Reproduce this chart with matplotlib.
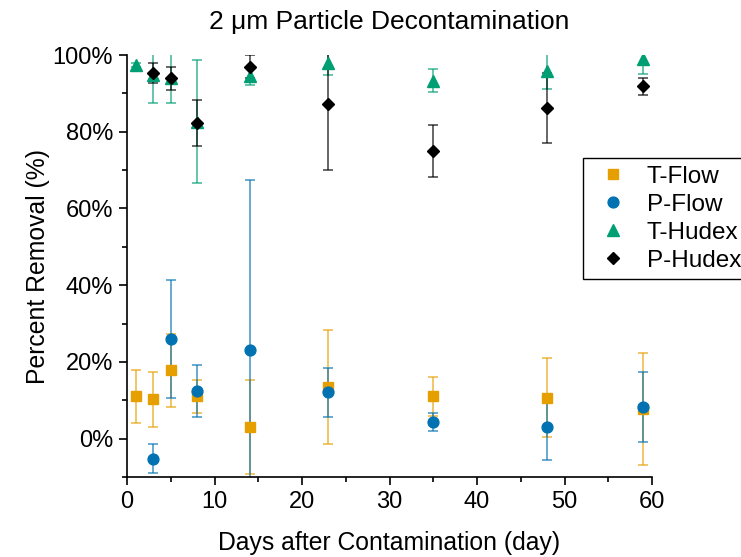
import matplotlib
matplotlib.use("Agg")
import matplotlib.pyplot as plt
from matplotlib.ticker import MultipleLocator, FuncFormatter

plt.rcParams['font.family'] = ['Liberation Sans', 'DejaVu Sans']

# ---- data ----
tflow_days = [1, 3, 5, 8, 14, 23, 35, 48, 59]
tflow_val = [11.0, 10.3, 17.8, 11.0, 3.1, 13.5, 11.0, 10.6, 7.6]
tflow_err = [7.0, 7.2, 9.5, 4.4, 12.3, 14.8, 5.0, 10.3, 14.6]

pflow_days = [3, 5, 8, 14, 23, 35, 48, 59]
pflow_val = [-5.2, 26.0, 12.5, 23.2, 12.1, 4.4, 3.0, 8.2]
pflow_err = [3.7, 15.3, 6.8, 44.2, 6.4, 2.3, 8.5, 9.1]

thudex_days = [1, 3, 5, 8, 14, 23, 35, 48, 59]
thudex_val = [97.4, 94.8, 94.0, 82.6, 94.5, 98.0, 93.3, 95.7, 99.0]
thudex_err = [0.6, 7.4, 6.6, 16.0, 2.2, 3.1, 3.0, 4.5, 4.0]

phudex_days = [3, 5, 8, 14, 23, 35, 48, 59]
phudex_val = [95.2, 93.9, 82.3, 96.9, 87.1, 75.0, 86.2, 91.8]
phudex_err = [2.6, 3.0, 6.0, 3.0, 17.2, 6.8, 9.2, 2.3]

series = [
    ("T-Flow", tflow_days, tflow_val, tflow_err, "#E69F00", "s", 6.8),
    ("P-Flow", pflow_days, pflow_val, pflow_err, "#0072B2", "o", 7.8),
    ("T-Hudex", thudex_days, thudex_val, thudex_err, "#009E73", "^", 8.5),
    ("P-Hudex", phudex_days, phudex_val, phudex_err, "#000000", "D", 6.3),
]

fig = plt.figure(figsize=(7.41, 5.57), dpi=100)
ax = fig.add_axes([127/741, 1 - 477/557, (652 - 127)/741, (477 - 55)/557])

handles = []
for name, d, v, e, c, m, ms in series:
    ax.errorbar(d, v, yerr=e, fmt="none", ecolor=c, elinewidth=1.4,
                capsize=3.6, capthick=1.4, alpha=0.6, zorder=2)
    h = ax.plot(d, v, linestyle="none", marker=m, color=c, markersize=ms,
                label=name, zorder=3)[0]
    handles.append(h)

ax.set_xlim(0, 60)
ax.set_ylim(-10, 100)
ax.xaxis.set_major_locator(MultipleLocator(10))
ax.xaxis.set_minor_locator(MultipleLocator(5))
ax.yaxis.set_major_locator(MultipleLocator(20))
ax.yaxis.set_minor_locator(MultipleLocator(10))
ax.yaxis.set_major_formatter(FuncFormatter(lambda y, p: f"{y:.0f}%"))
ax.tick_params(which="major", direction="out", length=6, width=1.2, labelsize=17, pad=4)
ax.tick_params(which="minor", direction="out", length=3.5, width=1.2)
for s in ["top", "right"]:
    ax.spines[s].set_visible(False)
for s in ["left", "bottom"]:
    ax.spines[s].set_linewidth(1.2)

ax.set_xlabel("Days after Contamination (day)", fontsize=17.8, labelpad=13)
ax.set_ylabel("Percent Removal (%)", fontsize=17.8, labelpad=2)
ax.set_title("2 \u03bcm Particle Decontamination", fontsize=19, pad=19)

leg = fig.legend(handles=handles, loc="upper left",
                 bbox_to_anchor=(582.7/741, 1 - 158.3/557),
                 fontsize=17.5, frameon=True, fancybox=False,
                 edgecolor="black", framealpha=1, borderpad=0.3,
                 labelspacing=0.25, handletextpad=0.43, handlelength=1.9,
                 borderaxespad=0)
leg.get_frame().set_linewidth(1.0)

fig.savefig("out.png", dpi=100)
